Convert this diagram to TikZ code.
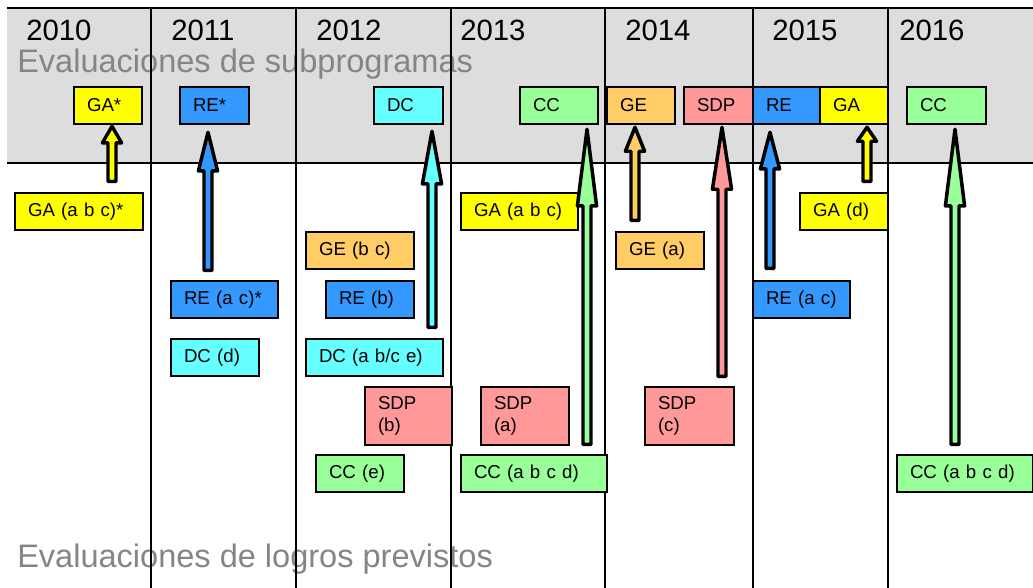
\documentclass[tikz,border=0pt]{standalone}
\usepackage{fontspec}
\setmainfont{Liberation Sans}
\usetikzlibrary{calc}
\definecolor{cGA}{HTML}{FFFF00}
\definecolor{cRE}{HTML}{3399FF}
\definecolor{cDC}{HTML}{66FFFF}
\definecolor{cCC}{HTML}{99FF99}
\definecolor{cGE}{HTML}{FFCC66}
\definecolor{cSDP}{HTML}{FF9999}
\definecolor{band}{HTML}{DDDDDD}
\definecolor{titlegray}{HTML}{858585}
\tikzset{
	evbox/.style 2 args={draw=black,line width=1.5pt,fill=#1,anchor=north west,inner xsep=9.75pt,inner ysep=0pt,minimum height=27.5pt,text width=#2,align=left,font=\fontsize{14}{17}\selectfont},
	yearlbl/.style={anchor=west,inner sep=0pt,font=\fontsize{22}{26}\selectfont},
	titlelbl/.style={anchor=base west,inner sep=0pt,text=titlegray,font=\fontsize{24.4}{29}\selectfont},
	upblock/.style 2 args={draw=black,line width=2.6pt,line join=round,fill=#1,
		to path={let \p1=(\tikztostart),\p2=(\tikztotarget) in
			(\x1-3pt,\y1) -- (\x1-3pt,\y2-#2) -- (\x1-7.2pt,\y2-#2) -- (\x1,\y2) -- (\x1+7.2pt,\y2-#2) -- (\x1+3pt,\y2-#2) -- (\x1+3pt,\y1) -- cycle}}
}
\begin{document}
\begin{tikzpicture}[x=0.75pt,y=-0.75pt]
	\useasboundingbox (0,0) rectangle (1033,588);
	\fill[band] (7,8) rectangle (1033,163);
	\node[titlelbl] (subtitle) at (17,72.5) {Evaluaciones de subprogramas};
	\node[titlelbl] (logtitle) at (17,567) {Evaluaciones de logros previstos};
	\draw[line width=2pt] (7,8) -- (1033,8);
	\draw[line width=1.5pt] (7,163) -- (1033,163);
	\draw[line width=1.5pt] (151,8) -- (151,588) (296,8) -- (296,588) (451,8) -- (451,588) (605,8) -- (605,588) (753,8) -- (753,588) (888,8) -- (888,588);
	\node[yearlbl] (y2010) at (26,30.5) {2010};
	\node[yearlbl] (y2011) at (171,30.5) {2011};
	\node[yearlbl] (y2012) at (316,30.5) {2012};
	\node[yearlbl] (y2013) at (460,30.5) {2013};
	\node[yearlbl] (y2014) at (625,30.5) {2014};
	\node[yearlbl] (y2015) at (772,30.5) {2015};
	\node[yearlbl] (y2016) at (899,30.5) {2016};
	\node[evbox={cGA}{31.5pt}] (subGA10) at (73,86) {GA*};
	\node[evbox={cRE}{32.25pt}] (subRE11) at (179,86) {RE*};
	\node[evbox={cDC}{32.25pt}] (subDC12) at (373,86) {DC};
	\node[evbox={cCC}{39pt}] (subCC13) at (519,86) {CC};
	\node[evbox={cGE}{31.5pt}] (subGE14) at (606,86) {GE};
	\node[evbox={cSDP}{32.25pt}] (subSDP14) at (683,86) {SDP};
	\node[evbox={cRE}{30.75pt}] (subRE15) at (752,86) {RE};
	\node[evbox={cGA}{31.5pt}] (subGA15) at (819,86) {GA};
	\node[evbox={cCC}{39.75pt}] (subCC16) at (906,86) {CC};
	\node[evbox={cGA}{76.5pt}] (ga10) at (14,192) {GA (a b c)*};
	\node[evbox={cRE}{60.75pt}] (re11) at (170,280) {RE (a c)*};
	\node[evbox={cDC}{46.5pt}] (dc11) at (170,338) {DC (d)};
	\node[evbox={cGE}{61.5pt}] (ge12) at (305,231) {GE (b c)};
	\node[evbox={cRE}{46.5pt}] (re12) at (325,280) {RE (b)};
	\node[evbox={cDC}{83.25pt}] (dc12) at (305,338) {DC (a b/c e)};
	\node[evbox={cSDP}{45.75pt},minimum height=43.5pt] (sdp12) at (364,386) {SDP\\(b)};
	\node[evbox={cCC}{46.5pt}] (cc12) at (315,454) {CC (e)};
	\node[evbox={cGA}{68.25pt}] (ga13) at (460,192) {GA (a b c)};
	\node[evbox={cSDP}{46.5pt},minimum height=43.5pt] (sdp13) at (480,386) {SDP\\(a)};
	\node[evbox={cCC}{90pt}] (cc13) at (460,454) {CC (a b c d)};
	\node[evbox={cGE}{46.5pt}] (ge14) at (615,231) {GE (a)};
	\node[evbox={cSDP}{47.25pt},minimum height=43.5pt] (sdp14) at (644,386) {SDP\\(c)};
	\node[evbox={cRE}{53.25pt}] (re15) at (752,280) {RE (a c)};
	\node[evbox={cGA}{46.5pt}] (ga15) at (799,192) {GA (d)};
	\node[evbox={cCC}{82.5pt}] (cc16) at (896,454) {CC (a b c d)};
	\coordinate (a10) at (112,181.4);
	\coordinate (a11) at (208,270.4);
	\coordinate (a12) at (432,327.4);
	\coordinate (a13) at (587,444.4);
	\coordinate (a14g) at (635,220.4);
	\coordinate (a14s) at (722,376.4);
	\coordinate (a15r) at (770,268.4);
	\coordinate (a15g) at (867,181.4);
	\coordinate (a16) at (955,444.4);
	\coordinate (h10) at ($(a10 |- subGA10.south)+(0,1.6)$);
	\coordinate (h11) at ($(a11 |- subRE11.south)+(0,7.6)$);
	\coordinate (h12) at ($(a12 |- subDC12.south)+(0,6.6)$);
	\coordinate (h13) at ($(a13 |- subCC13.south)+(0,4.6)$);
	\coordinate (h14g) at ($(a14g |- subGE14.south)+(0,2.6)$);
	\coordinate (h14s) at ($(a14s |- subSDP14.south)+(0,2.6)$);
	\coordinate (h15r) at ($(a15r |- subRE15.south)+(0,7.6)$);
	\coordinate (h15g) at ($(a15g |- subGA15.south)+(0,2.6)$);
	\coordinate (h16) at ($(a16 |- subCC16.south)+(0,4.6)$);
	\draw[upblock={cGA}{12.5pt}] (a10) to (h10);
	\draw[upblock={cRE}{29pt}] (a11) to (h11);
	\draw[upblock={cDC}{39.5pt}] (a12) to (h12);
	\draw[upblock={cCC}{57.5pt}] (a13) to (h13);
	\draw[upblock={cGE}{18pt}] (a14g) to (h14g);
	\draw[upblock={cSDP}{46.5pt}] (a14s) to (h14s);
	\draw[upblock={cRE}{27.5pt}] (a15r) to (h15r);
	\draw[upblock={cGA}{10.5pt}] (a15g) to (h15g);
	\draw[upblock={cCC}{57.5pt}] (a16) to (h16);
\end{tikzpicture}
\end{document}
